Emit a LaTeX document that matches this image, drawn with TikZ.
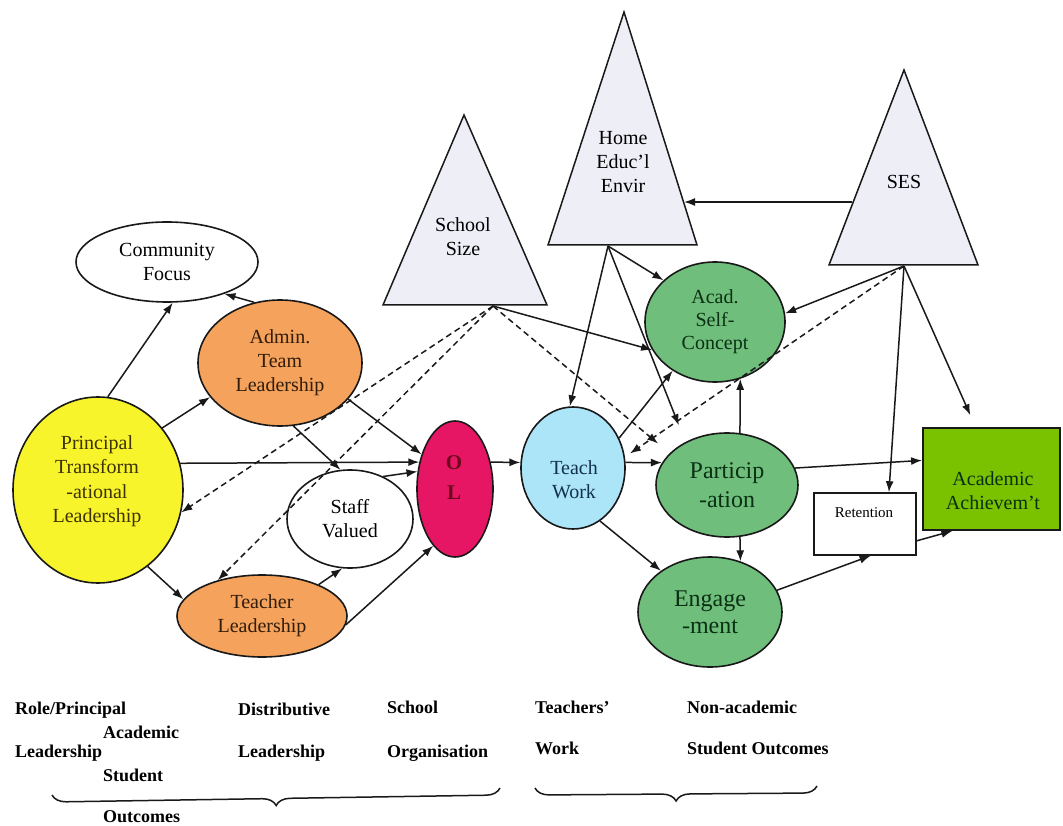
\documentclass[tikz,border=0pt]{standalone}
\usepackage{fontspec}
\setmainfont{Liberation Serif}
\usetikzlibrary{arrows.meta,shapes.geometric,decorations.pathreplacing,calc}
\definecolor{ylw}{RGB}{248,244,44}
\definecolor{org}{RGB}{244,162,92}
\definecolor{pnk}{RGB}{230,22,100}
\definecolor{lblue}{RGB}{172,228,248}
\definecolor{grn}{RGB}{112,190,124}
\definecolor{lime}{RGB}{122,194,0}
\definecolor{trifill}{RGB}{238,238,246}
\definecolor{ink}{RGB}{25,25,25}
\definecolor{oltext}{RGB}{110,8,28}
\definecolor{gtext}{RGB}{10,48,20}
\definecolor{btext}{RGB}{18,50,76}
\definecolor{otext}{RGB}{50,28,10}
\definecolor{ytext}{RGB}{60,50,0}
\begin{document}
\begin{tikzpicture}[x=1pt,y=-1pt,
  ell/.style={ellipse, draw=ink, line width=1.6pt, inner sep=0pt, align=center,
    font=\fontsize{20}{24}\selectfont},
  txt/.style={align=center, inner sep=0pt, font=\fontsize{20}{24}\selectfont},
  arr/.style={-{Latex[length=11pt,width=8pt]}, line width=1.5pt, draw=ink},
  dsh/.style={arr, dash pattern=on 6pt off 4pt},
  trishape/.style={draw=ink, line width=1.5pt, fill=trifill},
  lab/.style={font=\fontsize{18}{20}\selectfont\bfseries, anchor=west, inner sep=0pt},
  brc/.style={draw=ink, line width=1.5pt, decorate, decoration={brace, mirror, amplitude=14pt}}
]
\useasboundingbox (0,0) rectangle (1063,826);

% triangles
\draw[trishape] (464,115) -- (547,305) -- (383,305) -- cycle;
\node[txt] (ssz) at (463,237) {School\\Size};
\draw[trishape] (624,12) -- (697,245) -- (548,245) -- cycle;
\node[txt] (home) at (623,162) {Home\\Educ’l\\Envir};
\draw[trishape] (904,70) -- (978,265) -- (829,265) -- cycle;
\node[txt] (ses) at (904,182) {SES};
\coordinate (ssb) at (493,306);
\coordinate (homeb) at (608,246);
\coordinate (sesb) at (904,266);
\coordinate (homer) at (684,202);
\coordinate (sesl) at (852,202);

% ellipses
\node[ell, minimum width=182pt, minimum height=80pt] (com) at (167,262) {Community\\Focus};
\node[ell, fill=org, text=otext, minimum width=164pt, minimum height=126pt] (adm) at (280,363) {Admin.\\Team\\Leadership};
\node[ell, fill=ylw, minimum width=170pt, minimum height=186pt] (pri) at (98,490) {};
\node[txt, text=ytext, font=\fontsize{20}{24.5}\selectfont] (prit) at (97,481) {Principal\\Transform\\-ational\\Leadership};
\node[ell, minimum width=126pt, minimum height=98pt] (stf) at (350,519) {Staff\\Valued};
\node[ell, fill=org, text=otext, minimum width=170pt, minimum height=82pt] (tea) at (262,616) {Teacher\\Leadership};
\node[ell, fill=pnk, minimum width=76pt, minimum height=136pt] (ol) at (455,489) {};
\node[txt, text=oltext, font=\fontsize{21}{30}\selectfont\bfseries] (olt) at (454,478) {O\\L};
\node[ell, fill=lblue, minimum width=104pt, minimum height=122pt] (tw) at (573,468) {};
\node[txt, text=btext] (twt) at (574,480) {Teach\\Work};
\node[ell, fill=grn, text=gtext, minimum width=140pt, minimum height=120pt, font=\fontsize{20}{23}\selectfont] (acad) at (715,322) {Acad.\\Self-\\Concept};
\node[ell, fill=grn, text=gtext, minimum width=142pt, minimum height=104pt, font=\fontsize{24}{29}\selectfont] (par) at (727,485) {Particip\\-ation};
\node[ell, fill=grn, text=gtext, minimum width=144pt, minimum height=110pt, font=\fontsize{24}{27}\selectfont] (eng) at (710,612) {Engage\\-ment};

% boxes
\node[draw=ink, line width=1.5pt, fill=white, minimum width=102pt, minimum height=62pt, inner sep=0pt] (ret) at (865,524) {};
\node[txt, font=\fontsize{15}{18}\selectfont] (rett) at (864,513) {Retention};
\node[draw=ink, line width=1.8pt, fill=lime, minimum width=137pt, minimum height=102pt, inner sep=0pt] (aa) at (991.5,479) {};
\node[txt, text=gtext] (aat) at (993,491) {Academic\\Achievem’t};

% solid connectors
\draw[arr] (pri.84) -- (com.278);
\draw[arr] (adm.113) -- (com.331);
\draw[arr] (pri.44) -- (adm.206);
\draw[arr] (pri.18) -- (ol.143);
\draw[arr] (adm.332) -- (ol.134);
\draw[arr] (adm.282) -- (stf.101);
\draw[arr] (stf.52) -- (ol.155);
\draw[arr] (pri.303) -- (tea.168);
\draw[arr] (tea.29) -- (stf.261);
\draw[arr] (tea.354) -- (ol.249);
\draw[arr] (ol.37) -- (tw.174);
\draw[arr] (homeb) -- (tw.93);
\draw[arr] (homeb) -- (acad.141);
\draw[arr, shorten >=18pt] (homeb) -- (par.134);
\draw[arr] (ssb) -- (acad.204);
\draw[arr] (tw.33) -- (acad.229);
\draw[arr] (tw.6) -- (par.161);
\draw[arr] (tw.297) -- (eng.140);
\draw[arr] (par.76) -- (acad.294);
\draw[arr] (par.284) -- (eng.59);
\draw[arr] (par.14) -- (aa.165);
\draw[arr] (eng.18) -- (ret.280);
\draw[arr] (ret.342) -- (aa.233);
\draw[arr] (sesl) -- (homer);
\draw[arr] (sesb) -- (acad.7);
\draw[arr] (sesb) -- (ret.53);
\draw[arr, shorten >=13pt] (sesb) -- (aa.107);

% dashed connectors
\draw[dsh] (ssb) -- (pri.345);
\draw[dsh] (ssb) -- (tea.141);
\draw[dsh, shorten >=15pt] (ssb) -- (par.151);
\draw[dsh, shorten >=6pt] (sesb) -- (tw.12);

% bottom labels
\node[lab] (l1) at (15,710) {Role/Principal};
\node[lab] (l2) at (103,732) {Academic};
\node[lab] (l3) at (15,753) {Leadership};
\node[lab] (l4) at (103,775) {Student};
\node[lab] (l5) at (103,817) {Outcomes};
\node[lab] (l6) at (238,709) {Distributive};
\node[lab] (l7) at (238,753) {Leadership};
\node[lab] (l8) at (387,707) {School};
\node[lab] (l9) at (387,753) {Organisation};
\node[lab] (l10) at (535,707) {Teachers’};
\node[lab] (l11) at (535,748) {Work};
\node[lab] (l12) at (687,707) {Non-academic};
\node[lab] (l13) at (687,748) {Student Outcomes};

% braces
\draw[brc] (52,795) -- (500,788);
\draw[brc] (535,788) -- (817,786);
\end{tikzpicture}
\end{document}
